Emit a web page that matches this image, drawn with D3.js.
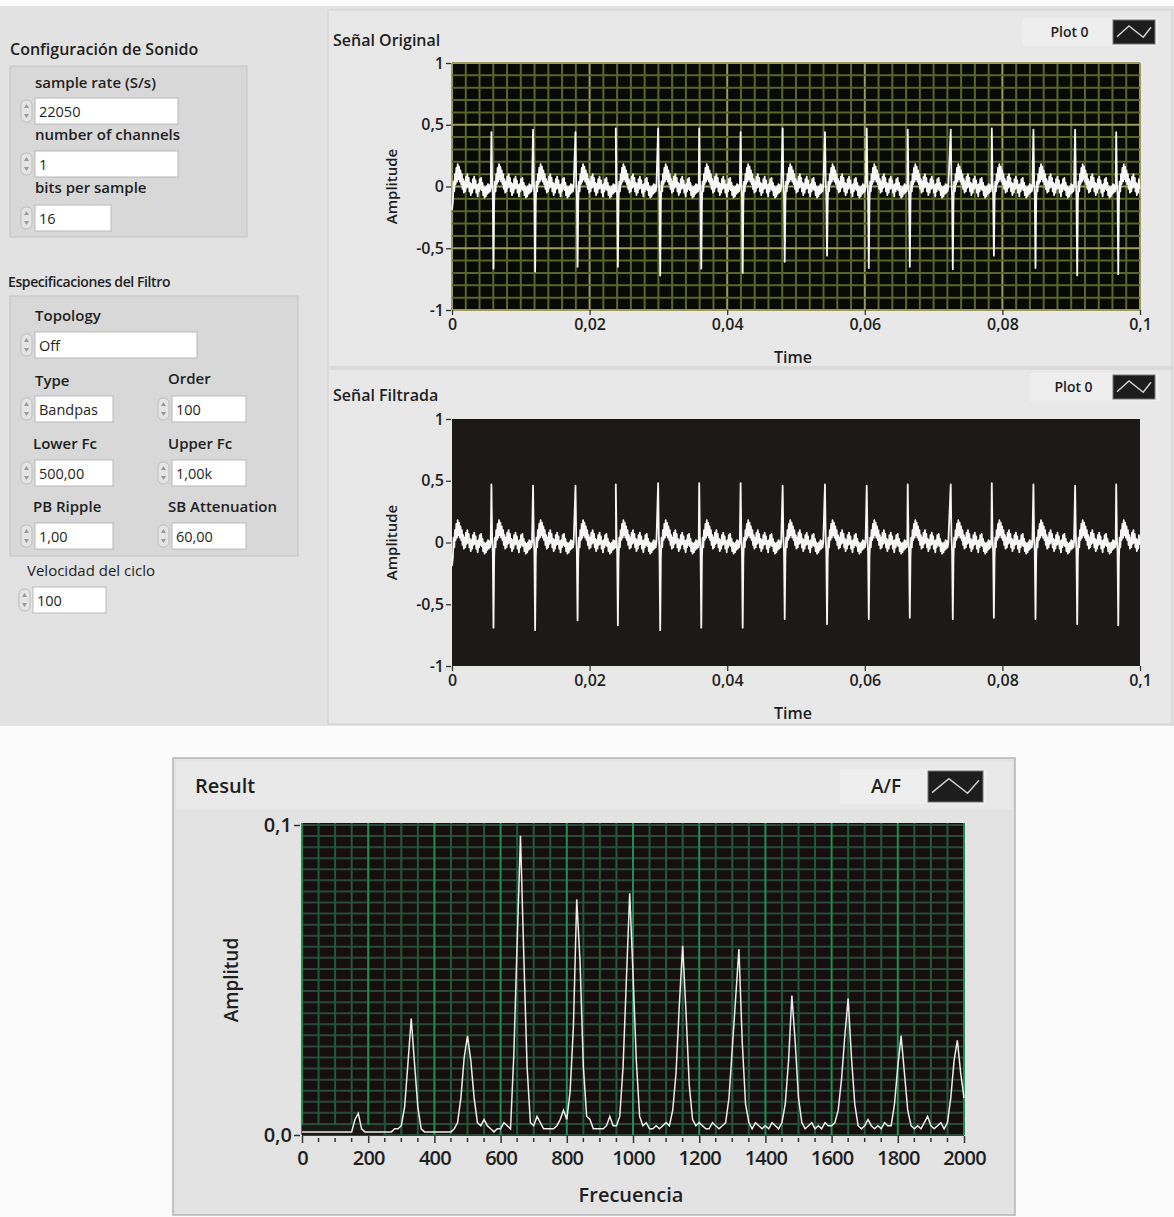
<!DOCTYPE html>
<html>
<head>
<meta charset="utf-8">
<script src="https://cdn.jsdelivr.net/npm/d3@7"></script>
<style>
  body { margin: 0; background: #fbfbfb; }
  text { font-family: "Open Sans", "Noto Sans", sans-serif; fill: #1f1f1f; }
</style>
</head>
<body>
<svg id="panel" width="1174" height="1217"></svg>
<script>
// ---- datos ----
const ticksTiempo = [0, 0.02, 0.04, 0.06, 0.08, 0.1];
const etiquetasTiempo = ["0", "0,02", "0,04", "0,06", "0,08", "0,1"];
const ticksAmp = [1, 0.5, 0, -0.5, -1];
const etiquetasAmp = ["1", "0,5", "0", "-0,5", "-1"];
const ticksFrec = [0, 200, 400, 600, 800, 1000, 1200, 1400, 1600, 1800, 2000];
const ticksEspectro = [0, 0.1];
const etiquetasEspectro = ["0,0", "0,1"];

// instantes de cada pulso (s)
const picos = [0.00573, 0.01178, 0.01795, 0.02381, 0.02996, 0.03593, 0.04195, 0.04806,
               0.05421, 0.06028, 0.06624, 0.07249, 0.07846, 0.08451, 0.09057, 0.09654];
const subidaOriginal = [0.44, 0.46, 0.44, 0.47, 0.47, 0.47, 0.44, 0.47,
                        0.44, 0.47, 0.46, 0.46, 0.47, 0.46, 0.46, 0.44];
const bajadaOriginal = [-0.665, -0.69, -0.65, -0.65, -0.72, -0.665, -0.70, -0.61,
                        -0.56, -0.66, -0.65, -0.67, -0.56, -0.66, -0.72, -0.71];
const subidaFiltrada = [0.47, 0.46, 0.46, 0.47, 0.48, 0.48, 0.48, 0.46,
                        0.47, 0.46, 0.47, 0.47, 0.48, 0.47, 0.46, 0.47];
const bajadaFiltrada = [-0.69, -0.71, -0.63, -0.67, -0.71, -0.69, -0.69, -0.62,
                        -0.66, -0.62, -0.61, -0.62, -0.61, -0.62, -0.66, -0.67];
// forma de un ciclo tras el pulso, una muestra cada 0,1 ms
const pasoCiclo = 0.0001;
const ciclo = [0, 0.05, -0.08, 0, -0.12, 0.04, -0.04, 0.10, 0.02, 0.15,
               0.04, 0.18, 0.06, 0.16, 0.04, 0.13, 0.02, 0.10, -0.02, 0.06,
               -0.05, 0.04, -0.04, 0.08, -0.01, 0.10, 0.00, 0.07, -0.04, 0.03,
               -0.07, 0.02, -0.05, 0.06, -0.02, 0.08, -0.01, 0.05, -0.05, 0.01,
               -0.08, 0.02, -0.04, 0.06, -0.02, 0.07, -0.03, 0.03, -0.07, 0.00,
               -0.09, -0.01, -0.08, 0.00, -0.06, 0.02, -0.05, 0.01, -0.04, 0.00];
const valorInicial = -0.19;

// espectro, un valor cada 10 Hz de 0 a 2000 Hz
const pasoFrec = 10;
const espectro = [
  0.001, 0.001, 0.001, 0.001, 0.001, 0.001, 0.001, 0.001, 0.001, 0.001, 0.001, 0.001, 0.001, 0.001, 0.001, 0.001, 0.005, 0.007, 0.002, 0.001,
  0.001, 0.001, 0.001, 0.001, 0.001, 0.001, 0.001, 0.001, 0.002, 0.002, 0.003, 0.009, 0.023, 0.0376, 0.023, 0.009, 0.002, 0.001, 0.001, 0.001,
  0.001, 0.001, 0.001, 0.001, 0.001, 0.001, 0.002, 0.004, 0.012, 0.025, 0.032, 0.024, 0.012, 0.004, 0.003, 0.005, 0.003, 0.002, 0.001, 0.002,
  0.002, 0.004, 0.003, 0.002, 0.026, 0.062, 0.0965, 0.058, 0.022, 0.004, 0.003, 0.006, 0.004, 0.002, 0.002, 0.002, 0.002, 0.003, 0.005, 0.008,
  0.005, 0.014, 0.035, 0.076, 0.056, 0.022, 0.006, 0.005, 0.002, 0.002, 0.002, 0.002, 0.003, 0.006, 0.003, 0.003, 0.006, 0.022, 0.050, 0.078,
  0.052, 0.024, 0.006, 0.003, 0.004, 0.002, 0.002, 0.003, 0.002, 0.003, 0.004, 0.003, 0.008, 0.020, 0.042, 0.061, 0.040, 0.016, 0.005, 0.003,
  0.004, 0.003, 0.002, 0.002, 0.004, 0.003, 0.002, 0.003, 0.004, 0.012, 0.028, 0.044, 0.060, 0.030, 0.010, 0.004, 0.002, 0.004, 0.003, 0.002,
  0.003, 0.002, 0.004, 0.003, 0.002, 0.004, 0.010, 0.024, 0.045, 0.030, 0.012, 0.004, 0.002, 0.003, 0.004, 0.002, 0.003, 0.002, 0.004, 0.003,
  0.003, 0.004, 0.008, 0.018, 0.032, 0.044, 0.025, 0.010, 0.003, 0.002, 0.003, 0.005, 0.003, 0.002, 0.003, 0.002, 0.004, 0.003, 0.003, 0.010,
  0.022, 0.032, 0.020, 0.008, 0.003, 0.002, 0.003, 0.002, 0.004, 0.006, 0.003, 0.002, 0.003, 0.004, 0.002, 0.004, 0.012, 0.024, 0.0305, 0.020,
  0.012
];

// controles del panel izquierdo
const controles = [
  { etiqueta: "sample rate (S/s)", valor: "22050", lx: 35, ly: 88, x: 35, y: 98, w: 143 },
  { etiqueta: "number of channels", valor: "1", lx: 35, ly: 140, x: 35, y: 151, w: 143 },
  { etiqueta: "bits per sample", valor: "16", lx: 35, ly: 193, x: 35, y: 205, w: 76 },
  { etiqueta: "Topology", valor: "Off", lx: 35, ly: 321, x: 35, y: 332, w: 162 },
  { etiqueta: "Type", valor: "Bandpas", lx: 35, ly: 386, x: 35, y: 396, w: 78 },
  { etiqueta: "Order", valor: "100", lx: 168, ly: 384, x: 172, y: 396, w: 74 },
  { etiqueta: "Lower Fc", valor: "500,00", lx: 33, ly: 449, x: 35, y: 460, w: 78 },
  { etiqueta: "Upper Fc", valor: "1,00k", lx: 168, ly: 449, x: 172, y: 460, w: 74 },
  { etiqueta: "PB Ripple", valor: "1,00", lx: 33, ly: 512, x: 35, y: 523, w: 78 },
  { etiqueta: "SB Attenuation", valor: "60,00", lx: 168, ly: 512, x: 172, y: 523, w: 74 },
  { etiqueta: "Velocidad del ciclo", valor: "100", lx: 27, ly: 576, x: 33, y: 587, w: 73, normal: true }
];

const svg = d3.select("#panel");

// ---- fondos ----
svg.append("rect").attr("width", 1174).attr("height", 1217).attr("fill", "#fbfbfb");
svg.append("rect").attr("x", 0).attr("y", 6).attr("width", 1174).attr("height", 720).attr("fill", "#e2e2e2");
svg.append("rect").attr("x", 328).attr("y", 10).attr("width", 844).attr("height", 357)
  .attr("fill", "#e8e8e8").attr("stroke", "#cfcfcf");
svg.append("rect").attr("x", 328).attr("y", 369).attr("width", 844).attr("height", 355)
  .attr("fill", "#e8e8e8").attr("stroke", "#cfcfcf");

// ---- panel izquierdo ----
svg.append("text").attr("x", 10).attr("y", 55).attr("font-size", 16).attr("font-weight", 600)
  .text("Configuración de Sonido");
svg.append("rect").attr("x", 10).attr("y", 66).attr("width", 237).attr("height", 171)
  .attr("fill", "#d8d8d8").attr("stroke", "#c4c4c4");
svg.append("text").attr("x", 8).attr("y", 287).attr("font-size", 14).attr("font-weight", 600)
  .attr("fill", "#333").attr("letter-spacing", -0.4).text("Especificaciones del Filtro");
svg.append("rect").attr("x", 10).attr("y", 296).attr("width", 288).attr("height", 260)
  .attr("fill", "#d8d8d8").attr("stroke", "#c4c4c4");

controles.forEach(c => {
  svg.append("text").attr("x", c.lx).attr("y", c.ly).attr("font-size", 15)
    .attr("font-weight", c.normal ? 400 : 600).attr("fill", c.normal ? "#3a3a3a" : "#1f1f1f")
    .text(c.etiqueta);
  svg.append("rect").attr("x", c.x).attr("y", c.y).attr("width", c.w).attr("height", 26)
    .attr("fill", "#ffffff").attr("stroke", "#b8b8b8");
  svg.append("text").attr("x", c.x + 4).attr("y", c.y + 19).attr("font-size", 14.5)
    .attr("fill", "#222").text(c.valor);
  // flechas del control numerico
  const sx = c.x - 14, sy = c.y + 2;
  svg.append("rect").attr("x", sx).attr("y", sy).attr("width", 11).attr("height", 22).attr("rx", 5)
    .attr("fill", "#e4e4e4").attr("stroke", "#bdbdbd");
  svg.append("path").attr("d", `M${sx + 3},${sy + 8} L${sx + 5.5},${sy + 4} L${sx + 8},${sy + 8} Z`).attr("fill", "#9a9a9a");
  svg.append("path").attr("d", `M${sx + 3},${sy + 14} L${sx + 5.5},${sy + 18} L${sx + 8},${sy + 14} Z`).attr("fill", "#9a9a9a");
});

// ---- senales en el tiempo ----
function armarSenal(subidas, bajadas) {
  const pts = [[0, valorInicial]];
  ciclo.forEach((v, i) => {
    const t = picos[0] - (ciclo.length - i) * pasoCiclo;
    if (t > 0 && i > 3) pts.push([t, v]);
  });
  picos.forEach((t0, k) => {
    ciclo.forEach((v, i) => {
      const t = t0 + i * pasoCiclo;
      if (t > 0.1) return;
      let y = v;
      if (i == 0) y = subidas[k];
      if (i == 3) y = bajadas[k];
      pts.push([t, y]);
    });
  });
  return pts;
}

function leyenda(x, y, texto, cajaX, cajaY, cajaW, cajaH, tam) {
  svg.append("rect").attr("x", x).attr("y", cajaY - 2).attr("width", cajaX + cajaW + 4 - x).attr("height", cajaH + 4)
    .attr("fill", "#eeeeee");
  svg.append("text").attr("x", (x + cajaX) / 2 + 2).attr("y", cajaY + cajaH / 2 + tam * 0.35)
    .attr("text-anchor", "middle").attr("font-size", tam).attr("font-weight", 600).text(texto);
  svg.append("rect").attr("x", cajaX).attr("y", cajaY).attr("width", cajaW).attr("height", cajaH)
    .attr("fill", "#1d1d1d").attr("stroke", "#777");
  svg.append("polyline")
    .attr("points", [[cajaX + 4, cajaY + cajaH * 0.7], [cajaX + cajaW * 0.38, cajaY + cajaH * 0.25],
      [cajaX + cajaW * 0.72, cajaY + cajaH * 0.72], [cajaX + cajaW - 4, cajaY + cajaH * 0.3]].join(" "))
    .attr("fill", "none").attr("stroke", "#cfcfcf").attr("stroke-width", 1.5);
}

function graficoTiempo(cfg) {
  const x = d3.scaleLinear().domain([0, 0.1]).range([452, 1140]);
  const y = d3.scaleLinear().domain([-1, 1]).range([cfg.abajo, cfg.arriba]);
  const g = svg.append("g");

  g.append("text").attr("x", 333).attr("y", cfg.titY).attr("font-size", 16).attr("font-weight", 600)
    .text(cfg.titulo);

  g.append("rect").attr("x", x(0)).attr("y", y(1)).attr("width", x(0.1) - x(0)).attr("height", y(-1) - y(1))
    .attr("fill", cfg.fondo);

  if (cfg.rejilla) {
    const gv = d3.range(0, 51).map(i => i * 0.002);
    const gh = d3.range(0, 21).map(i => -1 + i * 0.1);
    g.append("g").selectAll("line").data(gv).enter().append("line")
      .attr("x1", d => x(d)).attr("x2", d => x(d)).attr("y1", y(1)).attr("y2", y(-1))
      .attr("stroke", (d, i) => i % 10 == 0 ? "#9a9d5c" : "#59662a").attr("stroke-width", 2);
    g.append("g").selectAll("line").data(gh).enter().append("line")
      .attr("x1", x(0)).attr("x2", x(0.1)).attr("y1", d => y(d)).attr("y2", d => y(d))
      .attr("stroke", (d, i) => i % 5 == 0 ? "#9a9d5c" : "#59662a").attr("stroke-width", 2);
  }

  const datos = armarSenal(cfg.subidas, cfg.bajadas);
  g.append("path").datum(datos)
    .attr("d", d3.line().x(d => x(d[0])).y(d => y(d[1])))
    .attr("fill", "none").attr("stroke", "#f6f6f6").attr("stroke-width", 1.8)
    .attr("stroke-linejoin", "round");

  const ejeX = g.append("g").attr("transform", `translate(0,${y(-1)})`)
    .call(d3.axisBottom(x).tickValues(ticksTiempo).tickSize(5).tickPadding(4)
      .tickFormat((d, i) => etiquetasTiempo[i]));
  const ejeY = g.append("g").attr("transform", `translate(${x(0) - 1},0)`)
    .call(d3.axisLeft(y).tickValues(ticksAmp).tickSize(5).tickPadding(2)
      .tickFormat((d, i) => etiquetasAmp[ticksAmp.indexOf(d)]));
  [ejeX, ejeY].forEach(e => {
    e.select(".domain").remove();
    e.selectAll("line").attr("stroke", "#333").attr("stroke-width", 1.3);
    e.selectAll("text").attr("font-size", 16).attr("font-weight", 600).attr("fill", "#222")
      .style("font-family", "'Open Sans', sans-serif");
  });

  g.append("text").attr("x", 793).attr("y", y(-1) + 53).attr("text-anchor", "middle")
    .attr("font-size", 16).attr("font-weight", 600).text("Time");
  g.append("text").attr("transform", `translate(397,${y(0)}) rotate(-90)`).attr("text-anchor", "middle")
    .attr("font-size", 15).attr("font-weight", 600).text("Amplitude");

  leyenda(cfg.leyX, 0, "Plot 0", 1113, cfg.leyY, 42, 24, 14);
}

graficoTiempo({ titulo: "Señal Original", titY: 46, arriba: 63, abajo: 310, fondo: "#090905",
  rejilla: true, subidas: subidaOriginal, bajadas: bajadaOriginal, leyX: 1022, leyY: 20 });
graficoTiempo({ titulo: "Señal Filtrada", titY: 401, arriba: 419, abajo: 666, fondo: "#1d1919",
  rejilla: false, subidas: subidaFiltrada, bajadas: bajadaFiltrada, leyX: 1030, leyY: 375 });

// ---- espectro ----
svg.append("rect").attr("x", 173).attr("y", 758).attr("width", 842).attr("height", 457)
  .attr("fill", "#e3e3e3").attr("stroke", "#b5b5b5").attr("stroke-width", 1.5);
svg.append("rect").attr("x", 176).attr("y", 761).attr("width", 836).attr("height", 48)
  .attr("fill", "#e9e9e9");
svg.append("text").attr("x", 195).attr("y", 793).attr("font-size", 20).attr("font-weight", 600).text("Result");

const xf = d3.scaleLinear().domain([0, 2000]).range([302, 964]);
const yf = d3.scaleLinear().domain([0, 0.1]).range([1135, 825]);
const gf = svg.append("g");
gf.append("rect").attr("x", xf(0)).attr("y", 823).attr("width", xf(2000) - xf(0)).attr("height", yf(0) - 823)
  .attr("fill", "#170f0f");
const rejH = d3.range(0, 29).map(i => i * 0.1 / 28);
gf.append("g").selectAll("line").data(rejH).enter().append("line")
  .attr("x1", xf(0)).attr("x2", xf(2000)).attr("y1", d => yf(d)).attr("y2", d => yf(d))
  .attr("stroke", "#2a4a38").attr("stroke-width", 2);
const rejV = d3.range(0, 41).map(i => i * 50);
gf.append("g").selectAll("line").data(rejV).enter().append("line")
  .attr("x1", d => xf(d)).attr("x2", d => xf(d)).attr("y1", 823).attr("y2", yf(0))
  .attr("stroke", (d, i) => i % 4 == 0 ? "#1b8f54" : "#1f5a3b").attr("stroke-width", 2);
// recuadro oscuro del extremo inferior izquierdo
gf.append("rect").attr("x", xf(0)).attr("y", yf(0) - 10).attr("width", xf(245) - xf(0)).attr("height", 10)
  .attr("fill", "#1b1818");

gf.append("path").datum(espectro)
  .attr("d", d3.line().x((d, i) => xf(i * pasoFrec)).y(d => yf(d)))
  .attr("fill", "none").attr("stroke", "#ececec").attr("stroke-width", 1.5);

const ejeF = gf.append("g").attr("transform", `translate(0,${yf(0) + 1})`)
  .call(d3.axisBottom(xf).tickValues(ticksFrec).tickSize(7).tickPadding(8).tickFormat(d3.format("d")));
ejeF.select(".domain").remove();
ejeF.selectAll("line").attr("stroke", "#333").attr("stroke-width", 1.5);
ejeF.selectAll("text").attr("font-size", 20).attr("font-weight", 600).attr("fill", "#222")
  .attr("letter-spacing", -0.8).style("font-family", "'Open Sans', sans-serif");
const menores = d3.range(0, 41).map(i => i * 50).filter(d => d % 200 != 0);
gf.append("g").selectAll("line").data(menores).enter().append("line")
  .attr("x1", d => xf(d)).attr("x2", d => xf(d)).attr("y1", yf(0) + 3).attr("y2", yf(0) + 7)
  .attr("stroke", "#333").attr("stroke-width", 1.5);

const ejeA = gf.append("g").attr("transform", `translate(${xf(0) - 2},0)`)
  .call(d3.axisLeft(yf).tickValues(ticksEspectro).tickSize(6).tickPadding(2)
    .tickFormat((d, i) => etiquetasEspectro[i]));
ejeA.select(".domain").remove();
ejeA.selectAll("line").attr("stroke", "#333").attr("stroke-width", 1.5);
ejeA.selectAll("text").attr("font-size", 20).attr("font-weight", 600).attr("fill", "#222")
  .style("font-family", "'Open Sans', sans-serif");

svg.append("text").attr("x", 631).attr("y", 1202).attr("text-anchor", "middle")
  .attr("font-size", 20).attr("font-weight", 600).text("Frecuencia");
svg.append("text").attr("transform", `translate(238,980) rotate(-90)`).attr("text-anchor", "middle")
  .attr("font-size", 19).attr("font-weight", 600).text("Amplitud");

leyenda(840, 0, "A/F", 928, 771, 55, 31, 19);
</script>
</body>
</html>
